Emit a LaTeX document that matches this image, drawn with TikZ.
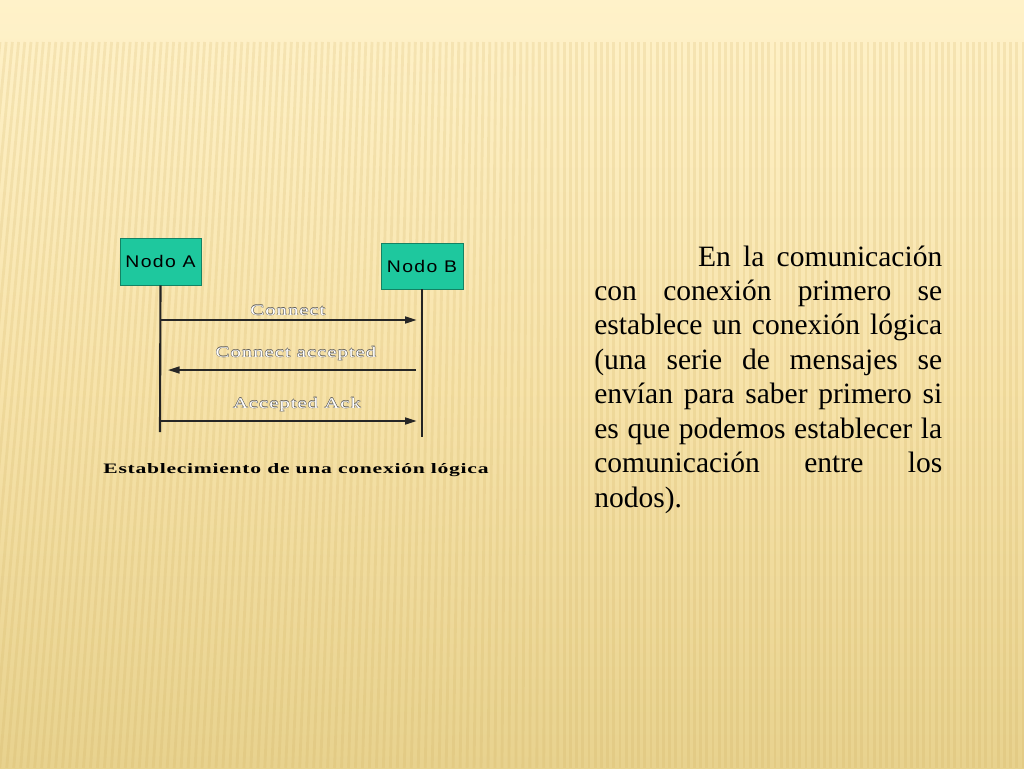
\documentclass[tikz,border=0pt]{standalone}
\usepackage{fontspec}
\setmainfont{Liberation Serif}
\newfontfamily\diagfont[LetterSpace=8,FakeStretch=1.15]{Liberation Sans}
\newfontfamily\msgfont[LetterSpace=6,FakeStretch=1.4]{Liberation Serif}
\newfontfamily\capfont[LetterSpace=5,FakeStretch=1.5]{Liberation Serif}
\usetikzlibrary{arrows.meta}
\definecolor{bgtop}{RGB}{255,242,201}
\definecolor{bgmid}{RGB}{247,227,170}
\definecolor{bgbot}{RGB}{232,210,142}
\definecolor{stripecol}{RGB}{205,172,90}
\definecolor{nodeteal}{RGB}{30,200,158}
\definecolor{nodeedge}{RGB}{20,130,100}
\definecolor{lifecol}{RGB}{35,35,35}
\definecolor{olgray}{RGB}{90,90,90}
\newcommand\outlinetext[1]{\leavevmode\rlap{\hspace{0.25pt}\textcolor{olgray}{#1}}\rlap{\hspace{-0.25pt}\textcolor{olgray}{#1}}\rlap{\raisebox{0.25pt}{\textcolor{olgray}{#1}}}\rlap{\raisebox{-0.25pt}{\textcolor{olgray}{#1}}}\textcolor{white}{#1}}
\tikzset{
  px/.style={x=0.02cm,y=-0.02cm},
  stripe/.style={draw=stripecol,opacity=0.18,line width=1.6pt},
  nodebox/.style={draw=nodeedge,line width=0.5pt,fill=nodeteal,inner sep=0pt,
     font=\diagfont\fontsize{9.6}{10}\selectfont,text=black},
  lifeline/.style={draw=lifecol,line width=1.2pt},
  msg/.style={draw=black!85,line width=0.8pt,-{Triangle[length=6.5pt,width=4pt]}},
  msglabel/.style={inner sep=0pt,anchor=base,font=\msgfont\fontsize{8.5}{9}\selectfont},
}
\begin{document}
\begin{tikzpicture}[px]
\useasboundingbox (0,0) rectangle (1024,768);
% background
\shade[top color=bgtop,bottom color=bgbot,middle color=bgmid] (0,0) rectangle (1024,768);
\fill[bgtop,opacity=0.6] (0,0) rectangle (1024,38);
\foreach \i in {0,...,168}{
  \pgfmathsetmacro\xa{\i*6.2}
  \pgfmathsetmacro\xb{\xa-70*max(0,(560-\xa)/560)}
  \draw[stripe] (\xa,42) -- (\xb,768);
}
% nodes
\node[nodebox,minimum width=46.1pt,minimum height=26.7pt] (A) at (160.5,261.5) {Nodo A};
\node[nodebox,minimum width=46.7pt,minimum height=26.2pt] (B) at (422,266) {Nodo B};
\coordinate (Aend) at (160,432);
\coordinate (Bend) at (422,437);
\draw[lifeline] (A.south) -- (Aend);
\draw[lifeline] (B.south) -- (Bend);
% messages
\coordinate (a1) at (160,320); \coordinate (b1) at (422,320);
\coordinate (a2) at (160,370); \coordinate (b2) at (422,370);
\coordinate (a3) at (160,421); \coordinate (b3) at (422,421);
\draw[msg,shorten >=3.1pt] (a1) -- (b1);
\draw[msg,shorten >=4.6pt,shorten <=3.4pt] (b2) -- (a2);
\draw[msg,shorten >=3.1pt] (a3) -- (b3);
\node[msglabel] (l1) at (288,315) {\outlinetext{Connect}};
\node[msglabel] (l2) at (296,357) {\outlinetext{Connect accepted}};
\node[msglabel] (l3) at (297,408) {\outlinetext{Accepted Ack}};
% caption
\node[inner sep=0pt,anchor=base,font=\capfont\bfseries\fontsize{8.2}{9}\selectfont] (cap) at (296,473) {Establecimiento de una conexión lógica};
% text block
\node[inner sep=0pt,anchor=base west] (txt) at (594,266) {\parbox[t]{198pt}{\fontsize{16.8}{19.6}\selectfont
\makebox[198pt][s]{\hspace*{59pt}En la comunicación}\par
\makebox[198pt][s]{con conexión primero se}\par
\makebox[198pt][s]{establece un conexión lógica}\par
\makebox[198pt][s]{(una serie de mensajes se}\par
\makebox[198pt][s]{envían para saber primero si}\par
\makebox[198pt][s]{es que podemos establecer la}\par
\makebox[198pt][s]{comunicación entre los}\par
nodos).}};
\end{tikzpicture}
\end{document}
